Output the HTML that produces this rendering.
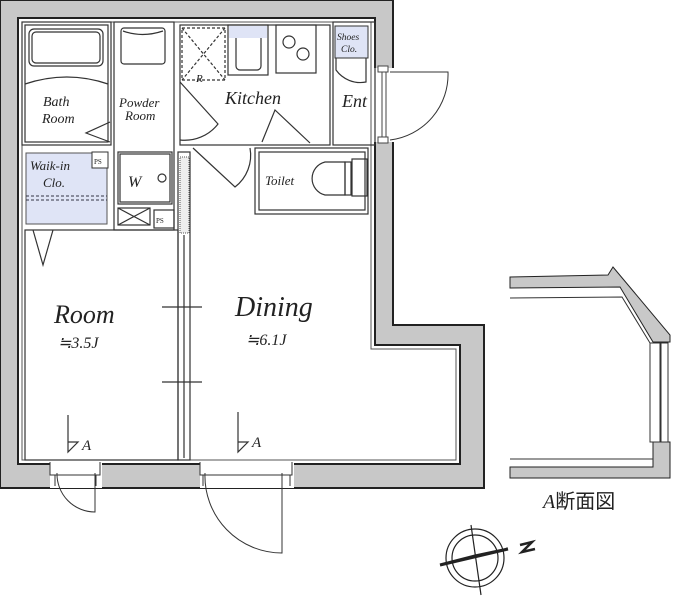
<!DOCTYPE html>
<html><head><meta charset="utf-8"><style>
body{margin:0;background:#fff;width:673px;height:596px;overflow:hidden}
svg{display:block}
text{font-family:"Liberation Serif","Noto Serif CJK SC",serif;font-style:italic;fill:#222}
</style></head><body>
<svg width="673" height="596" viewBox="0 0 673 596" xmlns="http://www.w3.org/2000/svg">
<path d="M0,0 H393 V325 H484 V488 H0 Z" fill="#c8c8c8" stroke="#222" stroke-width="2"/>
<path d="M18,18 H375 V345 H460 V464 H18 Z" fill="#fff" stroke="#222" stroke-width="2"/>
<path d="M22,22 H371 V349 H456 V460 H22 Z" fill="none" stroke="#555" stroke-width="1"/>
<rect x="372" y="68" width="23" height="74" fill="#fff"/>
<line x1="382" y1="70" x2="382" y2="140" stroke="#444" stroke-width="1"/>
<line x1="386" y1="70" x2="386" y2="140" stroke="#444" stroke-width="1"/>
<rect x="378" y="66" width="10" height="6" fill="#fff" stroke="#444"/>
<rect x="378" y="137" width="10" height="6" fill="#fff" stroke="#444"/>
<path d="M390,72 H448 A66,66 0 0 1 390,140" fill="none" stroke="#333"/>
<rect x="50" y="461" width="52" height="27" fill="#fff"/>
<rect x="200" y="461" width="94" height="27" fill="#fff"/>
<path d="M50,462 V475 H55 V486 M100,462 V475 H96 V486" fill="none" stroke="#333"/>
<path d="M200,462 V475 H203 V486 M292,462 V475 H290 V486" fill="none" stroke="#333"/>
<line x1="55" y1="475" x2="96" y2="475" stroke="#333"/><line x1="203" y1="475" x2="290" y2="475" stroke="#333"/>
<path d="M57,473 A38,38 0 0 0 95,512 V473" fill="none" stroke="#333"/>
<path d="M205,473 A77,77 0 0 0 282,553 V473" fill="none" stroke="#333"/>
<g fill="none" stroke="#333" stroke-width="1.2">
<rect x="22" y="22" width="89" height="123"/>
<rect x="25" y="25" width="83" height="117"/>
<rect x="29" y="29" width="74" height="37" rx="5"/>
<rect x="32" y="32" width="68" height="31" rx="4"/>
<path d="M25,84 Q67,70 108,84"/>
<path d="M110,122 L86,133 L110,142"/>
<rect x="114" y="22" width="60" height="208"/>
<rect x="121" y="28" width="44" height="36" rx="3"/>
<path d="M123,31 Q142,38 163,31"/>
<rect x="118" y="152" width="54" height="52"/>
<rect x="120" y="154" width="50" height="48"/>
<circle cx="162" cy="178" r="4"/>
<rect x="118" y="208" width="32" height="17"/>
<path d="M118,208 L150,225 M150,208 L118,225"/>
<rect x="154" y="210" width="20" height="18"/>
<rect x="180" y="25" width="150" height="120"/>
<rect x="182" y="28" width="43" height="52" stroke-dasharray="3,2"/>
<path d="M182,28 L225,80 M225,28 L182,80" stroke-dasharray="3,2"/>
<rect x="228" y="25" width="40" height="50"/>
<rect x="236" y="34" width="25" height="36" rx="4"/>
<rect x="276" y="25" width="40" height="48"/>
<circle cx="289" cy="42" r="6"/><circle cx="303" cy="54" r="6"/>
<path d="M180,82 L218,124 A42,42 0 0 1 180,140"/>
<path d="M193,148 L235,187 A40,40 0 0 0 250,148"/>
<path d="M262,142 L275,110 L310,143"/>
<rect x="333" y="22" width="42" height="123"/>
<path d="M336,57 L336,70 A30,30 0 0 0 366,82 V57"/>
<rect x="255" y="148" width="113" height="66"/>
<rect x="259" y="152" width="106" height="58"/>
<path d="M345,162 H325 A17,17 0 0 0 325,195 H345 Z"/>
<rect x="345" y="162" width="6" height="33"/><rect x="352" y="159" width="15" height="37"/>
<rect x="25" y="230" width="153" height="230"/>
<path d="M33,230 L43,265 L53,230"/>
<rect x="178" y="152" width="12" height="308"/>
<line x1="184" y1="235" x2="184" y2="458"/>
<path d="M162,307 H202 M162,382 H202"/>
<path d="M68,415 V452 L78,442 H68 M238,412 V452 L248,442 H238"/>
</g>
<rect x="26" y="153" width="81" height="71" fill="#dfe4f6" stroke="#555"/>
<path d="M26,196 H107 M26,200 H107" stroke="#334" stroke-dasharray="3,2"/>
<rect x="92" y="152" width="16" height="16" fill="#fff" stroke="#333"/>
<rect x="335" y="26" width="33" height="32" fill="#dfe4f6" stroke="#333"/>
<rect x="229" y="26" width="38" height="12" fill="#dfe4f6"/>
<rect x="180" y="157" width="9" height="76" fill="#eee" stroke="#555" stroke-dasharray="1,1"/>
<!-- section A -->
<path d="M510,277 L608,275 L613,267 L670,335 V342 H653 L620,287 L510,288 Z" fill="#c8c8c8" stroke="#222"/>
<path d="M653,442 H670 V478 H510 V467 H653 Z" fill="#c8c8c8" stroke="#222"/>
<path d="M510,298 L622,297 L650,343 M510,459 H653" fill="none" stroke="#333"/>
<rect x="650" y="343" width="10" height="99" fill="#fff" stroke="#333"/>
<rect x="661" y="343" width="7" height="99" fill="#fff" stroke="#333"/>
<g fill="none" stroke="#222" stroke-width="1.2">
<circle cx="475" cy="558" r="29"/><circle cx="475" cy="558" r="23"/>
<line x1="471" y1="525" x2="481" y2="595"/>
</g>
<path d="M440,565 L508,549 L475,556 Z" fill="#222" stroke="#222" stroke-width="3"/>
<path d="M520,545 L532,542 L522,552 L535,549" fill="none" stroke="#222" stroke-width="2.5"/>
<text x="43" y="106" font-size="14">Bath</text>
<text x="42" y="123" font-size="14">Room</text>
<text x="119" y="107" font-size="13">Powder</text>
<text x="125" y="120" font-size="13">Room</text>
<text x="196" y="82" font-size="11">R</text>
<text x="225" y="104" font-size="18">Kitchen</text>
<text x="342" y="107" font-size="18">Ent</text>
<text x="337" y="40" font-size="9.5">Shoes</text>
<text x="341" y="52" font-size="9.5">Clo.</text>
<text x="30" y="170" font-size="13">Waik-in</text>
<text x="43" y="187" font-size="13">Clo.</text>
<text x="94" y="164" font-size="7" style="font-style:normal">PS</text>
<text x="156" y="223" font-size="7" style="font-style:normal">PS</text>
<text x="128" y="187" font-size="16">W</text>
<text x="265" y="185" font-size="13">Toilet</text>
<text x="54" y="323" font-size="26">Room</text>
<text x="58" y="348" font-size="16">≒3.5J</text>
<text x="235" y="316" font-size="28">Dining</text>
<text x="246" y="345" font-size="16">≒6.1J</text>
<text x="82" y="450" font-size="15">A</text>
<text x="252" y="447" font-size="15">A</text>
<text x="543" y="508" font-size="20">A<tspan style="font-style:normal" font-family="Noto Sans CJK JP, sans-serif">断面図</tspan></text>
</svg>
</body></html>
